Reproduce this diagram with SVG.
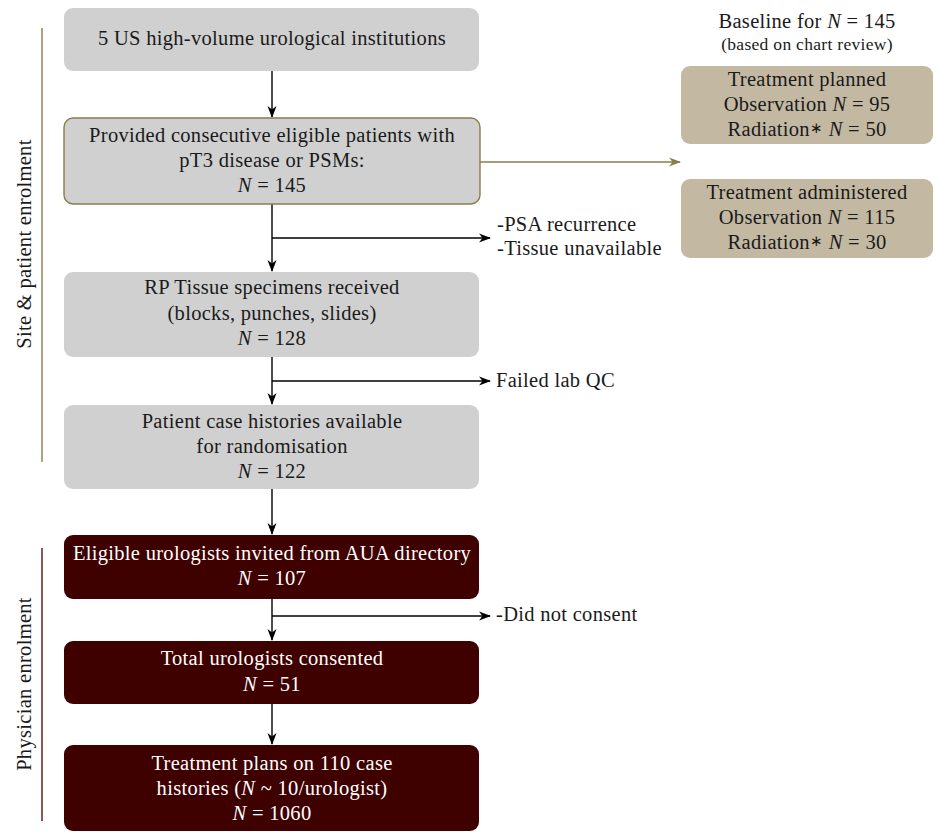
<svg xmlns="http://www.w3.org/2000/svg" width="936" height="832" viewBox="0 0 936 832">
<defs>
<marker id="ah" markerWidth="12" markerHeight="10" refX="11" refY="5" orient="auto" markerUnits="userSpaceOnUse">
<path d="M0,0.5 L12,5 L0,9.5 L3.5,5 Z" fill="#000"/>
</marker>
<marker id="aho" markerWidth="12" markerHeight="10" refX="11" refY="5" orient="auto" markerUnits="userSpaceOnUse">
<path d="M0,0.5 L12,5 L0,9.5 L3.5,5 Z" fill="#8b7c4c"/>
</marker>
<style>
text{font-family:"Liberation Serif","Times New Roman",serif;font-size:20.5px;letter-spacing:0.3px;fill:#1a1a1a}
.c{text-anchor:middle}
.w{fill:#ffffff}
.sm{font-size:17.5px}
.ast{font-size:15px}
.grey{fill:#d0d0d0}
.dark{fill:#3f0000}
.tan{fill:#c3b8a2}
.ln{stroke:#000;stroke-width:1.4;fill:none}
.i{font-style:italic}
</style>
</defs>
<rect width="936" height="832" fill="#fff"/>

<g id="labels">
<line x1="42" y1="28" x2="42" y2="462" stroke="#8b7c4c" stroke-width="1.4"/>
<text class="c" transform="translate(31,244) rotate(-90)">Site &amp; patient enrolment</text>
<line x1="42" y1="548" x2="42" y2="821" stroke="#5a1010" stroke-width="1.4"/>
<text class="c" transform="translate(31,684) rotate(-90)">Physician enrolment</text>
</g>

<g id="connectors">
<line class="ln" x1="272" y1="71" x2="272" y2="117" marker-end="url(#ah)"/>
<line class="ln" x1="272" y1="204" x2="272" y2="271" marker-end="url(#ah)"/>
<line class="ln" x1="272" y1="238" x2="490" y2="238" marker-end="url(#ah)"/>
<line class="ln" x1="272" y1="357" x2="272" y2="404" marker-end="url(#ah)"/>
<line class="ln" x1="272" y1="381" x2="490" y2="381" marker-end="url(#ah)"/>
<line class="ln" x1="272" y1="489" x2="272" y2="534" marker-end="url(#ah)"/>
<line class="ln" x1="272" y1="599" x2="272" y2="640" marker-end="url(#ah)"/>
<line class="ln" x1="272" y1="616" x2="490" y2="616" marker-end="url(#ah)"/>
<line class="ln" x1="272" y1="704" x2="272" y2="744" marker-end="url(#ah)"/>
<line x1="480" y1="162" x2="680" y2="162" stroke="#8b7c4c" stroke-width="1.4" marker-end="url(#aho)"/>
</g>

<g id="n1">
<rect class="grey" x="64" y="8" width="415" height="63" rx="9"/>
<text class="c" x="272" y="45">5 US high-volume urological institutions</text>
</g>
<g id="n2">
<rect class="grey" x="64" y="118" width="416" height="86" rx="9" stroke="#8b7c4c" stroke-width="1.4"/>
<text class="c" x="272" y="142">Provided consecutive eligible patients with</text>
<text class="c" x="272" y="167">pT3 disease or PSMs:</text>
<text class="c" x="272" y="192"><tspan class="i">N</tspan> = 145</text>
</g>
<g id="e1">
<text x="497" y="231">-PSA recurrence</text>
<text x="497" y="255">-Tissue unavailable</text>
</g>
<g id="n3">
<rect class="grey" x="64" y="272" width="415" height="85" rx="9"/>
<text class="c" x="272" y="294">RP Tissue specimens received</text>
<text class="c" x="272" y="320">(blocks, punches, slides)</text>
<text class="c" x="272" y="345"><tspan class="i">N</tspan> = 128</text>
</g>
<g id="e2">
<text x="496" y="387">Failed lab QC</text>
</g>
<g id="n4">
<rect class="grey" x="64" y="405" width="415" height="84" rx="9"/>
<text class="c" x="272" y="428">Patient case histories available</text>
<text class="c" x="272" y="453">for randomisation</text>
<text class="c" x="272" y="478"><tspan class="i">N</tspan> = 122</text>
</g>
<g id="n5">
<rect class="dark" x="64" y="535" width="415" height="64" rx="9"/>
<text class="c w" x="272" y="560">Eligible urologists invited from AUA directory</text>
<text class="c w" x="272" y="585"><tspan class="i">N</tspan> = 107</text>
</g>
<g id="e3">
<text x="496" y="621">-Did not consent</text>
</g>
<g id="n6">
<rect class="dark" x="64" y="641" width="415" height="63" rx="9"/>
<text class="c w" x="272" y="665">Total urologists consented</text>
<text class="c w" x="272" y="691"><tspan class="i">N</tspan> = 51</text>
</g>
<g id="n7">
<rect class="dark" x="64" y="745" width="415" height="86" rx="9"/>
<text class="c w" x="272" y="770">Treatment plans on 110 case</text>
<text class="c w" x="272" y="795">histories (<tspan class="i">N</tspan> ~ 10/urologist)</text>
<text class="c w" x="272" y="820"><tspan class="i">N</tspan> = 1060</text>
</g>

<g id="baseline">
<text class="c" x="807" y="28">Baseline for <tspan class="i">N</tspan> = 145</text>
<text class="c sm" x="807" y="50">(based on chart review)</text>
</g>
<g id="nA">
<rect class="tan" x="681" y="66" width="252" height="78" rx="9"/>
<text class="c" x="807" y="86">Treatment planned</text>
<text class="c" x="807" y="111">Observation <tspan class="i">N</tspan> = 95</text>
<text class="c" x="807" y="136">Radiation<tspan class="ast" dy="-3">∗</tspan><tspan dy="3"> </tspan><tspan class="i">N</tspan> = 50</text>
</g>
<g id="nB">
<rect class="tan" x="681" y="179" width="252" height="79" rx="9"/>
<text class="c" x="807" y="199">Treatment administered</text>
<text class="c" x="807" y="224">Observation <tspan class="i">N</tspan> = 115</text>
<text class="c" x="807" y="249">Radiation<tspan class="ast" dy="-3">∗</tspan><tspan dy="3"> </tspan><tspan class="i">N</tspan> = 30</text>
</g>
</svg>
